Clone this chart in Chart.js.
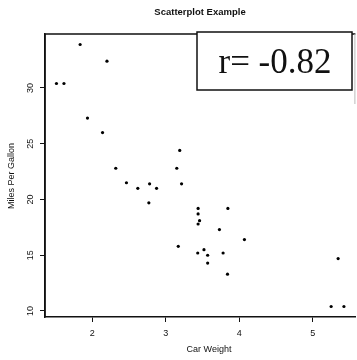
<!DOCTYPE html>
<html>
<head>
<meta charset="utf-8">
<script src="https://cdn.jsdelivr.net/npm/chart.js@4"></script>
<style>
  html, body { margin: 0; padding: 0; background: #fff; }
  #box { width: 357px; height: 360px; }
</style>
</head>
<body>
<div id="box"><canvas id="myChart"></canvas></div>
<script>
// Car weight (1000 lbs) vs miles per gallon
var carWeight = [2.620, 2.875, 2.320, 3.215, 3.440, 3.460, 3.570, 3.190, 3.150, 3.440, 3.440,
                 4.070, 3.730, 3.780, 5.250, 5.424, 5.345, 2.200, 1.615, 1.835, 2.465, 3.520,
                 3.435, 3.840, 3.845, 1.935, 2.140, 1.513, 3.170, 2.770, 3.570, 2.780];
var milesPerGallon = [21.0, 21.0, 22.8, 21.4, 18.7, 18.1, 14.3, 24.4, 22.8, 19.2, 17.8,
                      16.4, 17.3, 15.2, 10.4, 10.4, 14.7, 32.4, 30.4, 33.9, 21.5, 15.5,
                      15.2, 13.3, 19.2, 27.3, 26.0, 30.4, 15.8, 19.7, 15.0, 21.4];
var xTicks = [2, 3, 4, 5];
var yTicks = [10, 15, 20, 25, 30];
var chartTitle = 'Scatterplot Example';
var xLabel = 'Car Weight';
var yLabel = 'Miles Per Gallon';
var legendText = 'r= -0.82';

var points = [];
for (var i = 0; i < carWeight.length; i++) {
    points.push({x: carWeight[i], y: milesPerGallon[i]});
}

// title, axis labels, rotated y tick labels, frame and r box
var extras = {
    id: 'extras',
    afterDraw: function (chart) {
        var ctx = chart.ctx;
        var a = chart.chartArea;
        var ys = chart.scales.y;
        ctx.save();
        ctx.strokeStyle = '#111';
        ctx.lineWidth = 1.5;
        ctx.beginPath();
        ctx.moveTo(a.left, a.bottom);
        ctx.lineTo(a.left, a.top);
        ctx.lineTo(a.right, a.top);
        ctx.stroke();
        // right edge is nearly cut off in the scan
        ctx.strokeStyle = '#bbb';
        ctx.lineWidth = 1;
        ctx.beginPath();
        ctx.moveTo(a.right - 0.5, a.top);
        ctx.lineTo(a.right - 0.5, a.top + 70);
        ctx.stroke();

        ctx.fillStyle = '#111';
        ctx.textAlign = 'center';
        ctx.textBaseline = 'middle';
        ctx.font = 'bold 9.5px "Liberation Sans", Arial, sans-serif';
        ctx.fillText(chartTitle, 200, 12);

        ctx.font = '9px "Liberation Sans", Arial, sans-serif';
        ctx.fillText(xLabel, 209, 350);

        ctx.save();
        ctx.translate(12, 176);
        ctx.rotate(-Math.PI / 2);
        ctx.fillText(yLabel, 0, 0);
        ctx.restore();

        yTicks.forEach(function (v) {
            ctx.save();
            ctx.translate(31, ys.getPixelForValue(v));
            ctx.rotate(-Math.PI / 2);
            ctx.fillText(String(v), 0, 0);
            ctx.restore();
        });

        // legend box
        ctx.fillStyle = '#fff';
        ctx.fillRect(197, 32, 155, 58);
        ctx.strokeStyle = '#111';
        ctx.lineWidth = 1.5;
        ctx.strokeRect(197, 32, 155, 58);
        ctx.fillStyle = '#111';
        ctx.font = '35px "Liberation Serif", "Times New Roman", serif';
        ctx.textBaseline = 'alphabetic';
        ctx.fillText(legendText, 275, 73);
        ctx.restore();
    }
};

var ctx = document.getElementById('myChart').getContext('2d');
var chart = new Chart(ctx, {
    type: 'scatter',
    data: {
        datasets: [{
            data: points,
            pointRadius: 1.6,
            pointHoverRadius: 1.6,
            backgroundColor: '#000',
            borderWidth: 0
        }]
    },
    options: {
        responsive: true,
        maintainAspectRatio: false,
        animation: false,
        layout: { padding: { top: 34, right: 0, left: 0, bottom: 0 } },
        plugins: {
            legend: { display: false },
            tooltip: { enabled: false }
        },
        scales: {
            x: {
                type: 'linear',
                min: 1.357,
                max: 5.58,
                afterBuildTicks: function (scale) {
                    scale.ticks = xTicks.map(function (v) { return {value: v}; });
                },
                afterFit: function (scale) { scale.height = 43; },
                grid: {
                    drawOnChartArea: false,
                    drawTicks: true,
                    tickLength: 5,
                    tickColor: '#111',
                    tickWidth: 1
                },
                border: { display: true, color: '#111', width: 1.5 },
                ticks: {
                    color: '#111',
                    padding: 6,
                    maxRotation: 0,
                    font: { family: '"Liberation Sans", Arial, sans-serif', size: 9 }
                }
            },
            y: {
                type: 'linear',
                min: 9.46,
                max: 34.84,
                afterBuildTicks: function (scale) {
                    scale.ticks = yTicks.map(function (v) { return {value: v}; });
                },
                afterFit: function (scale) { scale.width = 45; },
                grid: {
                    drawOnChartArea: false,
                    drawTicks: true,
                    tickLength: 5,
                    tickColor: '#111',
                    tickWidth: 1
                },
                border: { display: true, color: '#111', width: 1.5 },
                ticks: { display: false }
            }
        }
    },
    plugins: [extras]
});
</script>
</body>
</html>
